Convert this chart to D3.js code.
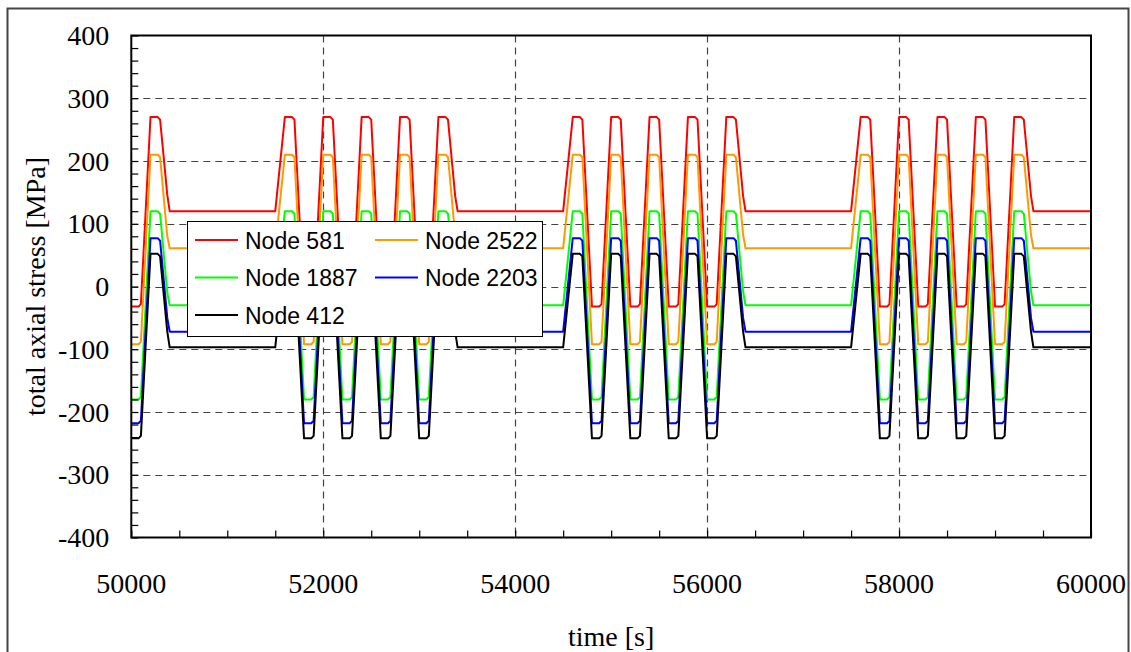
<!DOCTYPE html>
<html>
<head>
<meta charset="utf-8">
<script src="https://cdn.jsdelivr.net/npm/d3@7/dist/d3.min.js"></script>
<style>
  html, body { margin: 0; padding: 0; background: #fff; }
  svg { display: block; }
</style>
</head>
<body>
<svg id="chart" width="1131" height="652"></svg>
<script>
// Sample times [s] of the stress history (shared by all nodes)
const times = [
  50000, 50075, 50100, 50200, 50275, 50300, 50375, 50400,
  51500, 51600, 51675, 51700, 51800, 51875, 51900, 52000, 52075, 52100,
  52200, 52275, 52300, 52400, 52475, 52500, 52600, 52675, 52700,
  52800, 52875, 52900, 53000, 53075, 53100, 53200, 53275, 53300, 53375, 53400,
  54500, 54600, 54675, 54700, 54800, 54875, 54900, 55000, 55075, 55100,
  55200, 55275, 55300, 55400, 55475, 55500, 55600, 55675, 55700,
  55800, 55875, 55900, 56000, 56075, 56100, 56200, 56275, 56300, 56375, 56400,
  57500, 57600, 57675, 57700, 57800, 57875, 57900, 58000, 58075, 58100,
  58200, 58275, 58300, 58400, 58475, 58500, 58600, 58675, 58700,
  58800, 58875, 58900, 59000, 59075, 59100, 59200, 59275, 59300, 59375, 59400,
  60000
];

// Total axial stress [MPa] per node, one value per sample time
const node581 = [
  -32, -32, -28, 270, 270, 266, 146, 120,
  120, 270, 270, 266, -32, -32, -28, 270, 270, 266,
  -32, -32, -28, 270, 270, 266, -32, -32, -28,
  270, 270, 266, -32, -32, -28, 270, 270, 266, 144, 120,
  120, 270, 270, 266, -32, -32, -28, 270, 270, 266,
  -32, -32, -28, 270, 270, 266, -32, -32, -28,
  270, 270, 266, -32, -32, -28, 270, 270, 266, 144, 120,
  120, 270, 270, 266, -32, -32, -28, 270, 270, 266,
  -32, -32, -28, 270, 270, 266, -32, -32, -28,
  270, 270, 266, -32, -32, -28, 270, 270, 266, 144, 120,
  120
];
const node2522 = [
  -92, -92, -88, 210, 210, 206, 80, 61,
  61, 210, 210, 206, -92, -92, -88, 210, 210, 206,
  -92, -92, -88, 210, 210, 206, -92, -92, -88,
  210, 210, 206, -92, -92, -88, 210, 210, 206, 82, 61,
  61, 210, 210, 206, -92, -92, -88, 210, 210, 206,
  -92, -92, -88, 210, 210, 206, -92, -92, -88,
  210, 210, 206, -92, -92, -88, 210, 210, 206, 82, 61,
  61, 210, 210, 206, -92, -92, -88, 210, 210, 206,
  -92, -92, -88, 210, 210, 206, -92, -92, -88,
  210, 210, 206, -92, -92, -88, 210, 210, 206, 82, 61,
  61
];
const node1887 = [
  -180, -180, -176, 120, 120, 116, -10, -30,
  -30, 120, 120, 116, -180, -180, -176, 120, 120, 116,
  -180, -180, -176, 120, 120, 116, -180, -180, -176,
  120, 120, 116, -180, -180, -176, 120, 120, 116, -8, -30,
  -30, 120, 120, 116, -180, -180, -176, 120, 120, 116,
  -180, -180, -176, 120, 120, 116, -180, -180, -176,
  120, 120, 116, -180, -180, -176, 120, 120, 116, -8, -30,
  -30, 120, 120, 116, -180, -180, -176, 120, 120, 116,
  -180, -180, -176, 120, 120, 116, -180, -180, -176,
  120, 120, 116, -180, -180, -176, 120, 120, 116, -8, -30,
  -30
];
const node2203 = [
  -218, -218, -214, 77, 77, 73, -50, -72,
  -72, 77, 77, 73, -218, -218, -214, 77, 77, 73,
  -218, -218, -214, 77, 77, 73, -218, -218, -214,
  77, 77, 73, -218, -218, -214, 77, 77, 73, -50, -72,
  -72, 77, 77, 73, -218, -218, -214, 77, 77, 73,
  -218, -218, -214, 77, 77, 73, -218, -218, -214,
  77, 77, 73, -218, -218, -214, 77, 77, 73, -50, -72,
  -72, 77, 77, 73, -218, -218, -214, 77, 77, 73,
  -218, -218, -214, 77, 77, 73, -218, -218, -214,
  77, 77, 73, -218, -218, -214, 77, 77, 73, -50, -72,
  -72
];
const node412 = [
  -242, -242, -238, 52, 52, 48, -72, -97,
  -97, 52, 52, 48, -242, -242, -238, 52, 52, 48,
  -242, -242, -238, 52, 52, 48, -242, -242, -238,
  52, 52, 48, -242, -242, -238, 52, 52, 48, -72, -97,
  -97, 52, 52, 48, -242, -242, -238, 52, 52, 48,
  -242, -242, -238, 52, 52, 48, -242, -242, -238,
  52, 52, 48, -242, -242, -238, 52, 52, 48, -72, -97,
  -97, 52, 52, 48, -242, -242, -238, 52, 52, 48,
  -242, -242, -238, 52, 52, 48, -242, -242, -238,
  52, 52, 48, -242, -242, -238, 52, 52, 48, -72, -97,
  -97
];

const seriesNames = ["Node 581", "Node 2522", "Node 1887", "Node 2203", "Node 412"];
const seriesValues = [node581, node2522, node1887, node2203, node412];
const seriesColors = ["#ff0000", "#ff9900", "#00ff00", "#0000ff", "#000000"];

const xMajorTicks = [50000, 52000, 54000, 56000, 58000, 60000];
const yMajorTicks = [-400, -300, -200, -100, 0, 100, 200, 300, 400];
const xTickLabels = ["50000", "52000", "54000", "56000", "58000", "60000"];
const yTickLabels = ["-400", "-300", "-200", "-100", "0", "100", "200", "300", "400"];

const SERIF = "Liberation Serif";
const SANS = "Liberation Sans";

const svg = d3.select("#chart");
const plot = { left: 131.3, right: 1091, top: 35.5, bottom: 537.5 };

// outer frame
svg.append("rect")
  .attr("x", 7.5).attr("y", 8.5)
  .attr("width", 1121).attr("height", 660)
  .attr("fill", "#fff").attr("stroke", "#444").attr("stroke-width", 2);

const x = d3.scaleLinear().domain([50000, 60000]).range([plot.left, plot.right]);
const y = d3.scaleLinear().domain([-400, 400]).range([plot.bottom, plot.top]);

// dashed grid
const grid = svg.append("g").attr("stroke", "#444").attr("stroke-width", 1.2)
  .attr("stroke-dasharray", "7,5");
grid.selectAll("line.h").data(yMajorTicks.filter(v => v > -400 && v < 400)).join("line")
  .attr("class", "h")
  .attr("x1", plot.left).attr("x2", plot.right)
  .attr("y1", d => Math.round(y(d)) + 0.5).attr("y2", d => Math.round(y(d)) + 0.5);
grid.selectAll("line.v").data(xMajorTicks.filter(v => v > 50000 && v < 60000)).join("line")
  .attr("class", "v")
  .attr("y1", plot.top).attr("y2", plot.bottom)
  .attr("x1", d => Math.round(x(d)) + 0.5).attr("x2", d => Math.round(x(d)) + 0.5);

// clipping for the traces
svg.append("clipPath").attr("id", "plotClip")
  .append("rect").attr("x", plot.left).attr("y", plot.top)
  .attr("width", plot.right - plot.left).attr("height", plot.bottom - plot.top);

const line = d3.line().x(d => x(d[0])).y(d => y(d[1]));
const traces = svg.append("g").attr("clip-path", "url(#plotClip)");
seriesValues.forEach((vals, i) => {
  traces.append("path")
    .datum(times.map((t, j) => [t, vals[j]]))
    .attr("fill", "none")
    .attr("stroke", seriesColors[i])
    .attr("stroke-width", 2)
    .attr("stroke-linejoin", "round")
    .attr("d", line);
});

// inward tick marks (minor every 20 MPa / 500 s, major with the grid)
function tickAxis(g) {
  g.select(".domain").remove();
  g.selectAll("line").attr("stroke", "#000").attr("stroke-width", 1.2);
  g.selectAll("text").remove();
}
svg.append("g").attr("transform", `translate(${plot.left},0)`)
  .call(d3.axisLeft(y).tickValues(d3.range(-400, 401, 20)).tickSize(-7)).call(tickAxis);
svg.append("g").attr("transform", `translate(0,${plot.bottom})`)
  .call(d3.axisBottom(x).tickValues(d3.range(50000, 60001, 500)).tickSize(-7)).call(tickAxis);

// tick labels
svg.append("g").selectAll("text").data(yMajorTicks).join("text")
  .attr("x", plot.left - 22)
  .attr("y", d => y(d) + 9.5)
  .attr("text-anchor", "end")
  .attr("font-family", SERIF).attr("font-size", 28).attr("fill", "#000")
  .text((d, i) => yTickLabels[i]);
svg.append("g").selectAll("text").data(xMajorTicks).join("text")
  .attr("x", d => x(d))
  .attr("y", 593)
  .attr("text-anchor", "middle")
  .attr("font-family", SERIF).attr("font-size", 28).attr("fill", "#000")
  .text((d, i) => xTickLabels[i]);

// plot border
svg.append("rect")
  .attr("x", plot.left).attr("y", plot.top)
  .attr("width", plot.right - plot.left).attr("height", plot.bottom - plot.top)
  .attr("fill", "none").attr("stroke", "#000").attr("stroke-width", 2);

// axis titles
svg.append("text")
  .attr("x", (plot.left + plot.right) / 2).attr("y", 646)
  .attr("text-anchor", "middle")
  .attr("font-family", SERIF).attr("font-size", 28).attr("fill", "#000")
  .text("time [s]");
svg.append("text")
  .attr("transform", `translate(45,${(plot.top + plot.bottom) / 2}) rotate(-90)`)
  .attr("text-anchor", "middle")
  .attr("font-family", SERIF).attr("font-size", 28).attr("fill", "#000")
  .text("total axial stress [MPa]");

// legend
const legend = svg.append("g");
legend.append("rect")
  .attr("x", 187.5).attr("y", 221.5).attr("width", 355).attr("height", 115)
  .attr("fill", "#fff").attr("stroke", "#000").attr("stroke-width", 1);
const legendPos = [[195, 240], [375, 240], [195, 277.5], [375, 277.5], [195, 315]];
seriesNames.forEach((name, k) => {
  const [lx, ly] = legendPos[k];
  legend.append("line")
    .attr("x1", lx).attr("x2", lx + 43).attr("y1", ly).attr("y2", ly)
    .attr("stroke", seriesColors[k]).attr("stroke-width", 2);
  legend.append("text")
    .attr("x", lx + 50).attr("y", ly + 8.5)
    .attr("font-family", SANS).attr("font-size", 23).attr("fill", "#000")
    .text(name);
});
</script>
</body>
</html>
